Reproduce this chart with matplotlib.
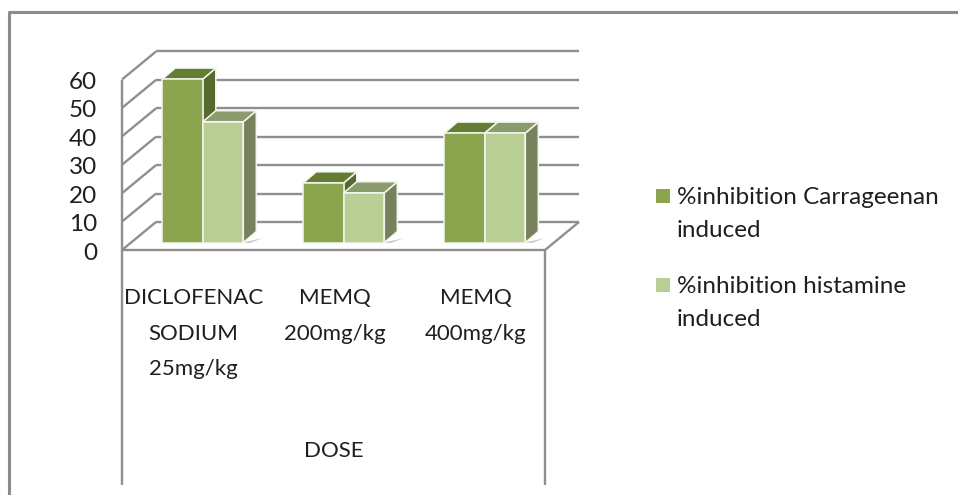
import matplotlib
matplotlib.use("Agg")
import matplotlib.pyplot as plt
from matplotlib.patches import Polygon

plt.rcParams['font.family'] = ['Lato', 'DejaVu Sans']

W, H = 958, 495

categories = ["DICLOFENAC\nSODIUM\n25mg/kg", "MEMQ\n200mg/kg", "MEMQ\n400mg/kg"]
carrageenan = [57.5, 21, 38.5]
histamine = [42.5, 17.5, 38.5]
series_names = ["%inhibition Carrageenan\ninduced", "%inhibition histamine\ninduced"]
y_ticks = [0, 10, 20, 30, 40, 50, 60]

GRID = "#8f8f8f"
TEXT = "#1f1f1f"

# colours: front, top, side
dark = ("#8aa54e", "#647c33", "#56692f")
light = ("#b9ce95", "#8a9c6c", "#77825c")

fig = plt.figure(figsize=(W / 100, H / 100), dpi=100)
fig.patch.set_facecolor("white")

# front plane of the chart: 122..545 px across, 250..79.5 px up
ax = fig.add_axes([122 / W, 1 - 250 / H, 423 / W, 170.5 / H])
ax.set_xlim(0, 3)
ax.set_ylim(0, 60)
ax.axis("off")

# depth of the fake 3d box, in data units
px_x = 3 / 423
px_y = 60 / 170.5
box_dx = 34 * px_x
box_dy = 28 * px_y
bar_dx = 13 * px_x
bar_dy = 11 * px_y
front_x = 10.3 * px_x
front_y = 7.5 * px_y
bar_w = 40.5 * px_x

line = dict(color=GRID, lw=1.7, clip_on=False, solid_capstyle="butt")

# back wall gridlines and the slanted lines on the side wall
for v in y_ticks:
    ax.plot([box_dx, 3 + box_dx], [v + box_dy, v + box_dy], zorder=1, **line)
    ax.plot([0, box_dx], [v, v + box_dy], zorder=1, **line)

ax.plot([0, 0], [0, 60], zorder=1, **line)
ax.plot([0, 3], [0, 0], zorder=1, **line)
ax.plot([3, 3 + box_dx], [0, box_dy], zorder=1, **line)


def draw_bar(left, value, colours, z):
    right = left + bar_w
    base = front_y
    top = base + value
    edge = dict(edgecolor="#f4f6ee", lw=1.1, clip_on=False, zorder=z, joinstyle="round")
    # shadow on the floor
    ax.add_patch(Polygon([(right, base), (right + bar_dx * 1.5, base + bar_dy * 0.4),
                          (right + bar_dx * 0.5, base - 0.2)],
                         facecolor="#c8c8c8", edgecolor="none", clip_on=False, zorder=2))
    ax.add_patch(Polygon([(right, base), (right + bar_dx, base + bar_dy),
                          (right + bar_dx, top + bar_dy), (right, top)],
                         facecolor=colours[2], **edge))
    ax.add_patch(Polygon([(left, top), (left + bar_dx, top + bar_dy),
                          (right + bar_dx, top + bar_dy), (right, top)],
                         facecolor=colours[1], **edge))
    ax.add_patch(Polygon([(left, base), (left, top), (right, top), (right, base)],
                         facecolor=colours[0], **edge))


for i in range(len(categories)):
    center = i + 0.5 + front_x
    draw_bar(center - bar_w, carrageenan[i], dark, 3 + i)
    draw_bar(center, histamine[i], light, 3.5 + i)

# value axis labels
for v in y_ticks:
    ax.annotate(str(v), (0, v), xytext=(-25, -3), textcoords="offset pixels",
                ha="right", va="center", fontsize=17.5, color=TEXT, annotation_clip=False)

# category labels and multi-level separators
for i, name in enumerate(categories):
    ax.annotate(name, (i + 0.5, 0), xytext=(1, -38), textcoords="offset pixels",
                ha="center", va="top", fontsize=16, color=TEXT, linespacing=1.97,
                annotation_clip=False)
ax.annotate("DOSE", (1.5, 0), xytext=(0, -201), textcoords="offset pixels",
            ha="center", va="center", fontsize=16, color=TEXT, annotation_clip=False)
for x in (0, 3):
    ax.plot([x, x], [0, -235 * px_y], zorder=1, **line)

# legend
leg_ax = fig.add_axes([0, 0, 1, 1])
leg_ax.set_xlim(0, W)
leg_ax.set_ylim(H, 0)
leg_ax.axis("off")
leg_ax.patch.set_alpha(0)
leg_y = [195.5, 284.5]
for name, col, y in zip(series_names, (dark[0], light[0]), leg_y):
    leg_ax.scatter([663.5], [y], marker="s", s=88, color=col, linewidths=0)
    leg_ax.text(677, y + 18.5, name, fontsize=17.5, color=TEXT, va="center", ha="left", linespacing=1.75)

# outer frame, only top and left show
leg_ax.plot([9.5, 9.5, W], [H, 11.5, 11.5], color="#8c8c8c", lw=2.2, clip_on=False)

fig.savefig("out.png", dpi=100)
